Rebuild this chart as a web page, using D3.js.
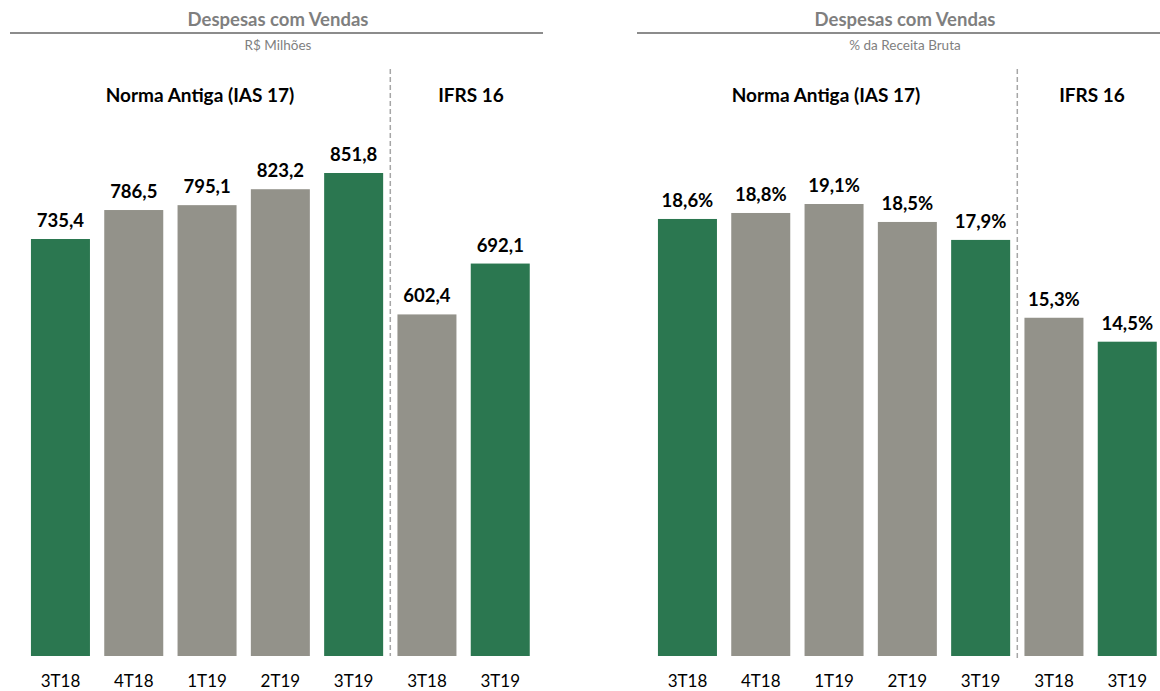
<!DOCTYPE html>
<html>
<head>
<meta charset="utf-8">
<script src="https://cdn.jsdelivr.net/npm/d3@7"></script>
<style>
  body { margin: 0; background: #fff; }
  svg { display: block; font-family: Lato, "Open Sans", sans-serif; }
</style>
</head>
<body>
<div id="chart"></div>
<script>
// data
var categories = ['3T18', '4T18', '1T19', '2T19', '3T19', '3T18', '3T19'];
var valuesBRL = [735.4, 786.5, 795.1, 823.2, 851.8, 602.4, 692.1];
var valuesPct = [18.6, 18.8, 19.1, 18.5, 17.9, 15.3, 14.5];
var highlight = [true, false, false, false, true, false, true];
var groupLabels = ['Norma Antiga (IAS 17)', 'IFRS 16'];

var green = '#2b7750';
var gray = '#93928a';

var svgWidth = 1160;
var svgHeight = 691;
var baseY = 656;

var svg = d3.select('#chart').append('svg')
  .attr('width', svgWidth)
  .attr('height', svgHeight);

function drawPanel(opts) {
  var g = svg.append('g');
  var keys = categories.map(function(c, i) { return i; });

  var x = d3.scaleBand()
    .domain(keys)
    .range([opts.x0, opts.x0 + 7 * 73.3])
    .paddingInner(0.195)
    .paddingOuter(0.0975);

  var y = d3.scaleLinear()
    .domain(opts.domain)
    .range([baseY, opts.top]);

  // title block
  g.append('text')
    .attr('x', opts.titleX).attr('y', 26)
    .attr('text-anchor', 'middle')
    .attr('font-weight', 'bold')
    .attr('font-size', '18.5px')
    .attr('fill', '#7f7f7f')
    .text('Despesas com Vendas');

  g.append('line')
    .attr('x1', opts.lineX[0]).attr('x2', opts.lineX[1])
    .attr('y1', 33).attr('y2', 33)
    .attr('stroke', '#8c8c8c')
    .attr('stroke-width', 2);

  g.append('text')
    .attr('x', opts.titleX).attr('y', 50)
    .attr('text-anchor', 'middle')
    .attr('font-size', '13.5px')
    .attr('fill', '#7f7f7f')
    .text(opts.subtitle);

  // separator
  var sepX = (x(4) + x.bandwidth() + x(5)) / 2;
  g.append('line')
    .attr('x1', sepX).attr('x2', sepX)
    .attr('y1', 69).attr('y2', opts.sepBottom)
    .attr('stroke', '#a6a6a6')
    .attr('stroke-width', 1.5)
    .attr('stroke-dasharray', '5,3');

  // group labels
  g.selectAll('.grp')
    .data(groupLabels)
    .enter()
    .append('text')
    .attr('x', function(d, i) { return opts.groupX[i]; })
    .attr('y', 102)
    .attr('text-anchor', 'middle')
    .attr('font-weight', 'bold')
    .attr('font-size', '19px')
    .attr('fill', '#000')
    .text(function(d) { return d; });

  // bars
  g.selectAll('rect')
    .data(opts.values)
    .enter()
    .append('rect')
    .attr('x', function(d, i) { return x(i); })
    .attr('y', function(d) { return y(d); })
    .attr('width', x.bandwidth())
    .attr('height', function(d) { return baseY - y(d); })
    .attr('fill', function(d, i) { return highlight[i] ? green : gray; });

  // value labels
  g.selectAll('.val')
    .data(opts.values)
    .enter()
    .append('text')
    .attr('x', function(d, i) { return x(i) + x.bandwidth() / 2; })
    .attr('y', function(d) { return y(d) - 12; })
    .attr('text-anchor', 'middle')
    .attr('font-weight', 'bold')
    .attr('font-size', '18.5px')
    .attr('fill', '#000')
    .text(opts.format);

  // category labels
  g.selectAll('.cat')
    .data(categories)
    .enter()
    .append('text')
    .attr('x', function(d, i) { return x(i) + x.bandwidth() / 2; })
    .attr('y', 687)
    .attr('text-anchor', 'middle')
    .attr('font-size', '17px')
    .attr('fill', '#000')
    .text(function(d) { return d; });
}

var fmt = function(d) { return d.toFixed(1).replace('.', ','); };

drawPanel({
  x0: 23.8,
  values: valuesBRL,
  domain: [0, 851.8],
  top: 173,
  titleX: 278,
  lineX: [10, 543],
  subtitle: 'R$ Milhões',
  groupX: [200, 471],
  sepBottom: 656,
  format: fmt
});

drawPanel({
  x0: 650.8,
  values: valuesPct,
  domain: [4, 19.1],
  top: 204,
  titleX: 905,
  lineX: [637, 1160],
  subtitle: '% da Receita Bruta',
  groupX: [826, 1092],
  sepBottom: 661,
  format: function(d) { return fmt(d) + '%'; }
});
</script>
</body>
</html>
